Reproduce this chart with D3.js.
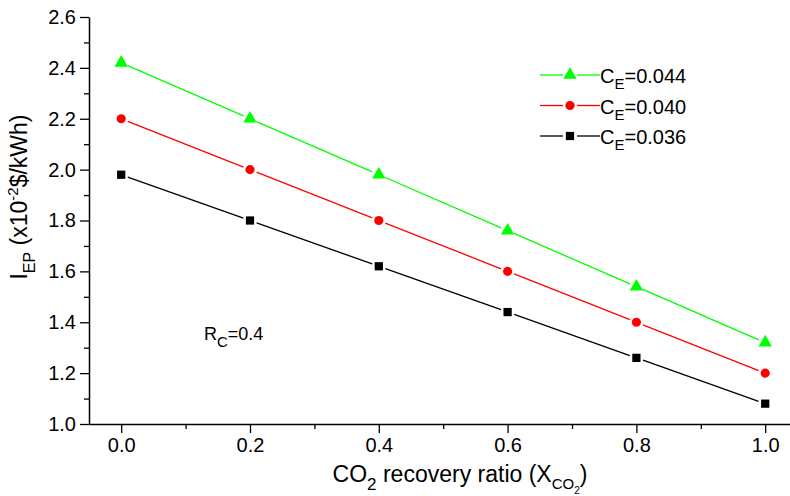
<!DOCTYPE html>
<html>
<head>
<meta charset="utf-8">
<script src="https://cdn.jsdelivr.net/npm/d3@7"></script>
<style>
  body { margin: 0; background: #fff; }
  text { font-family: "Liberation Sans", Arial, sans-serif; fill: #000; }
</style>
</head>
<body>
<script>
// data
var xValues = [0.0, 0.2, 0.4, 0.6, 0.8, 1.0];
var ce044 = [2.42, 2.20, 1.98, 1.76, 1.54, 1.32];
var ce040 = [2.20, 2.00, 1.80, 1.60, 1.40, 1.20];
var ce036 = [1.98, 1.80, 1.62, 1.44, 1.26, 1.08];
var seriesNames = ["0.044", "0.040", "0.036"];
var xTicks = [0.0, 0.2, 0.4, 0.6, 0.8, 1.0];
var xMinor = [0.1, 0.3, 0.5, 0.7, 0.9];
var yTicks = [1.0, 1.2, 1.4, 1.6, 1.8, 2.0, 2.2, 2.4, 2.6];
var yMinor = [1.1, 1.3, 1.5, 1.7, 1.9, 2.1, 2.3, 2.5];

var series = [
  {name: seriesNames[0], values: ce044, color: "#00ff00", shape: d3.symbolTriangle, size: 78},
  {name: seriesNames[1], values: ce040, color: "#ff0000", shape: d3.symbolCircle, size: 66},
  {name: seriesNames[2], values: ce036, color: "#000000", shape: d3.symbolSquare, size: 68}
];

var svg = d3.select("body")
   .append("svg")
   .attr("width", 790)
   .attr("height", 496);

var xScale = d3.scaleLinear()
   .domain([-0.05, 1.05])
   .range([89, 797.4]);

var yScale = d3.scaleLinear()
   .domain([1.0, 2.6])
   .range([424, 17]);

// axes
var xAxis = d3.axisBottom(xScale).tickValues(xTicks).tickSize(9).tickSizeOuter(0)
   .tickFormat(d3.format(".1f")).tickPadding(5);
var yAxis = d3.axisLeft(yScale).tickValues(yTicks).tickSize(9).tickSizeOuter(0)
   .tickFormat(d3.format(".1f")).tickPadding(4);

svg.append("g").attr("transform", "translate(0,424)").call(xAxis);
svg.append("g").attr("transform", "translate(89,0)").call(yAxis);

svg.append("g").attr("transform", "translate(0,424)")
   .call(d3.axisBottom(xScale).tickValues(xMinor).tickSize(5).tickSizeOuter(0).tickFormat(""))
   .select(".domain").remove();
svg.append("g").attr("transform", "translate(89,0)")
   .call(d3.axisLeft(yScale).tickValues(yMinor).tickSize(5).tickSizeOuter(0).tickFormat(""))
   .select(".domain").remove();

svg.selectAll(".domain").attr("stroke", "#000").attr("stroke-width", 1.5);
svg.selectAll(".tick line").attr("stroke", "#000").attr("stroke-width", 1.3);
svg.selectAll(".tick text").style("font-family", "Liberation Sans, Arial, sans-serif")
   .style("font-size", "20px").attr("fill", "#000");

// lines with gaps around markers
var gap = 7;
series.forEach(function(s){
  var g = svg.append("g");
  for (var i = 0; i < xValues.length - 1; i++) {
    var x1 = xScale(xValues[i]), y1 = yScale(s.values[i]);
    var x2 = xScale(xValues[i+1]), y2 = yScale(s.values[i+1]);
    var len = Math.hypot(x2 - x1, y2 - y1);
    var ux = (x2 - x1) / len, uy = (y2 - y1) / len;
    g.append("line")
      .attr("x1", x1 + ux * gap).attr("y1", y1 + uy * gap)
      .attr("x2", x2 - ux * gap).attr("y2", y2 - uy * gap)
      .attr("stroke", s.color).attr("stroke-width", 1.3);
  }
  g.selectAll("path")
    .data(s.values)
    .enter()
    .append("path")
    .attr("d", d3.symbol().type(s.shape).size(s.size))
    .attr("fill", s.color)
    .attr("transform", function(d, i){
      return "translate(" + xScale(xValues[i]) + "," + yScale(d) + ")";
    });
});

// legend
var legend = svg.append("g");
series.forEach(function(s, i){
  var ly = 75 + i * 30.5;
  legend.append("line").attr("x1", 540).attr("x2", 563).attr("y1", ly).attr("y2", ly)
    .attr("stroke", s.color).attr("stroke-width", 1.3);
  legend.append("line").attr("x1", 577).attr("x2", 600).attr("y1", ly).attr("y2", ly)
    .attr("stroke", s.color).attr("stroke-width", 1.3);
  legend.append("path").attr("d", d3.symbol().type(s.shape).size(s.size))
    .attr("fill", s.color).attr("transform", "translate(570," + ly + ")");
  var t = legend.append("text").attr("x", 600).attr("y", ly + 8).style("font-size", "20px");
  t.append("tspan").text("C");
  t.append("tspan").text("E").attr("dy", 6).style("font-size", "15px");
  t.append("tspan").text("=" + s.name).attr("dy", -6);
});

// annotation
var rc = svg.append("text").attr("x", 204).attr("y", 340).style("font-size", "18px");
rc.append("tspan").text("R");
rc.append("tspan").text("C").attr("dy", 7).style("font-size", "15px");
rc.append("tspan").text("=0.4").attr("dy", -7);

// x title
var xt = svg.append("text").attr("x", 460).attr("y", 482).attr("text-anchor", "middle")
   .style("font-size", "23px");
xt.append("tspan").text("CO");
xt.append("tspan").text("2").attr("dy", 8).style("font-size", "17px");
xt.append("tspan").text(" recovery ratio (X").attr("dy", -8);
xt.append("tspan").text("CO").attr("dy", 7).style("font-size", "15px");
xt.append("tspan").text("2").attr("dy", 5).style("font-size", "10px");
xt.append("tspan").text(")").attr("dy", -12);

// y title
var yt = svg.append("text").attr("transform", "translate(27,197) rotate(-90)")
   .attr("text-anchor", "middle").style("font-size", "23px");
yt.append("tspan").text("I");
yt.append("tspan").text("EP").attr("dy", 8).style("font-size", "16px");
yt.append("tspan").text(" (x10").attr("dy", -8);
yt.append("tspan").text("-2").attr("dy", -9).style("font-size", "15px");
yt.append("tspan").text("$/kWh)").attr("dy", 9);
</script>
</body>
</html>
